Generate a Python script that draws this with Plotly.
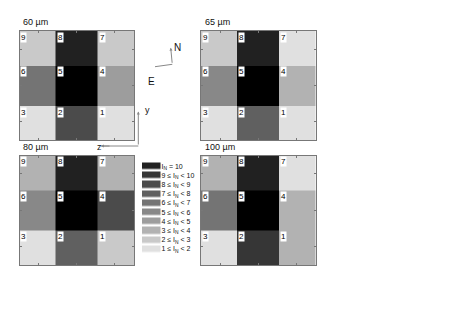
import plotly.graph_objects as go

# ---- data ----
panel_titles = ["60 µm", "65 µm", "80 µm", "100 µm"]
cell_numbers = [[3, 2, 1], [6, 5, 4], [9, 8, 7]]          # rows bottom -> top
# intensity level per cell (1..10 bins, 11 = reference cell shown black)
level_60 = [[1, 8, 1], [6, 11, 4], [2, 10, 2]]
level_65 = [[1, 7, 1], [5, 11, 3], [2, 10, 1]]
level_80 = [[1, 7, 2], [5, 11, 8], [3, 10, 3]]
level_100 = [[1, 9, 3], [6, 11, 3], [3, 10, 1]]
levels = [level_60, level_65, level_80, level_100]
x_edges = [0, 0.95, 2.05, 3]
y_edges = [0, 0.94, 2.05, 3]
legend_levels = [1, 2, 3, 4, 5, 6, 7, 8, 9, 10]
legend_labels = ["1 ≤ I<sub>N</sub> &lt; 2", "2 ≤ I<sub>N</sub> &lt; 3", "3 ≤ I<sub>N</sub> &lt; 4",
                 "4 ≤ I<sub>N</sub> &lt; 5", "5 ≤ I<sub>N</sub> &lt; 6", "6 ≤ I<sub>N</sub> &lt; 7",
                 "7 ≤ I<sub>N</sub> &lt; 8", "8 ≤ I<sub>N</sub> &lt; 9", "9 ≤ I<sub>N</sub> &lt; 10",
                 "I<sub>N</sub> = 10"]
grays = [224, 201, 178, 157, 136, 116, 96, 75, 54, 33, 0]   # level 1..11

W, H = 452, 315
FONT = "Liberation Sans, Arial, sans-serif"

# discrete colorscale for levels 1..11, zmin=0.5, zmax=11.5
n = len(grays)
cs = []
for i, g in enumerate(grays):
    c = f"rgb({g},{g},{g})"
    cs.append([i / n, c])
    cs.append([(i + 1) / n, c])

def px_x(x):
    return x / W

def px_y(y):
    return 1 - y / H

# panel pixel boxes
col_x = [(19.5, 134), (201, 315.5)]
row_y = [(31, 140), (155.5, 265)]

fig = go.Figure()
annotations = []
layout_axes = {}
for k, lv in enumerate(levels):
    r, c = divmod(k, 2)
    idx = k + 1
    xa = "x" if idx == 1 else f"x{idx}"
    ya = "y" if idx == 1 else f"y{idx}"
    fig.add_trace(go.Heatmap(
        z=lv, x=x_edges, y=y_edges, colorscale=cs, zmin=0.5, zmax=11.5,
        showscale=False, xaxis=xa, yaxis=ya, hoverinfo="skip"))
    ax_common = dict(range=[0, 3], showline=True, mirror="ticks", linecolor="#777",
                     linewidth=1, ticks="inside", ticklen=2, tickcolor="#777",
                     tickvals=[0.5, 1.5, 2.5], showticklabels=False,
                     showgrid=False, zeroline=False, fixedrange=True)
    x0, x1 = col_x[c]
    y0, y1 = row_y[r]
    layout_axes[("xaxis" if idx == 1 else f"xaxis{idx}")] = dict(
        domain=[px_x(x0), px_x(x1)], anchor=ya, **ax_common)
    layout_axes[("yaxis" if idx == 1 else f"yaxis{idx}")] = dict(
        domain=[px_y(y1), px_y(y0)], anchor=xa, **ax_common)
    # panel title
    annotations.append(dict(text=panel_titles[k], xref="paper", yref="paper",
                            x=px_x(x0 + 1.5), y=px_y(y0 - 2), xanchor="left", yanchor="bottom",
                            showarrow=False, font=dict(family=FONT, size=9, color="#111")))
    # cell numbers
    for ri in range(3):
        for ci in range(3):
            annotations.append(dict(text=str(cell_numbers[ri][ci]), xref=xa, yref=ya,
                                    x=x_edges[ci] + 0.02, y=y_edges[ri + 1] - 0.02,
                                    xanchor="left", yanchor="top", showarrow=False,
                                    bgcolor="white", borderpad=0,
                                    font=dict(family=FONT, size=8, color="black")))

# legend as a heatmap of swatches
fig.add_trace(go.Heatmap(
    z=[[v] for v in legend_levels], x=[0], y=list(range(len(legend_levels))),
    colorscale=cs, zmin=0.5, zmax=11.5, showscale=False, ygap=2.5,
    xaxis="x5", yaxis="y5", hoverinfo="skip"))
layout_axes["xaxis5"] = dict(domain=[px_x(142), px_x(160.5)], anchor="y5", visible=False,
                             fixedrange=True)
layout_axes["yaxis5"] = dict(domain=[px_y(253.5), px_y(161.5)], anchor="x5", side="right",
                             tickvals=list(range(len(legend_levels))), ticktext=legend_labels,
                             ticks="", showline=False, showgrid=False, zeroline=False,
                             tickfont=dict(family=FONT, size=7, color="#111"), fixedrange=True)

# compass (N / E)
gray = "#888"
annotations.append(dict(text="", xref="paper", yref="paper", x=px_x(170.7), y=px_y(47.7),
                        ax=1.6, ay=16.6, showarrow=True, arrowhead=2, arrowsize=0.6,
                        arrowwidth=1, arrowcolor=gray))
annotations.append(dict(text="N", xref="paper", yref="paper", x=px_x(177), y=px_y(40),
                        showarrow=False, font=dict(family=FONT, size=10, color="#111")))
annotations.append(dict(text="E", xref="paper", yref="paper", x=px_x(151), y=px_y(74),
                        showarrow=False, font=dict(family=FONT, size=10, color="#111")))
shapes = [
    dict(type="line", xref="paper", yref="paper", x0=px_x(155), y0=px_y(66.7),
         x1=px_x(172.3), y1=px_y(64.3), line=dict(color=gray, width=1)),
    dict(type="line", xref="paper", yref="paper", x0=px_x(138.3), y0=px_y(146),
         x1=px_x(101), y1=px_y(146), line=dict(color=gray, width=1)),
]
# y / z indicator
annotations.append(dict(text="", xref="paper", yref="paper", x=px_x(138.3), y=px_y(111.5),
                        ax=0, ay=34.5, showarrow=True, arrowhead=2, arrowsize=0.6,
                        arrowwidth=1, arrowcolor=gray))
annotations.append(dict(text="", xref="paper", yref="paper", x=px_x(101), y=px_y(146),
                        ax=10, ay=0, showarrow=True, arrowhead=2, arrowsize=0.6,
                        arrowwidth=1, arrowcolor=gray))
annotations.append(dict(text="y", xref="paper", yref="paper", x=px_x(143), y=px_y(110),
                        showarrow=False, font=dict(family=FONT, size=9, color="#111")))
annotations.append(dict(text="z", xref="paper", yref="paper", x=px_x(95), y=px_y(147),
                        showarrow=False, font=dict(family=FONT, size=9, color="#111")))

fig.update_layout(width=W, height=H, margin=dict(l=0, r=0, t=0, b=0),
                  paper_bgcolor="white", plot_bgcolor="white", showlegend=False,
                  annotations=annotations, shapes=shapes, **layout_axes)
fig.write_html("out.html", config={"displayModeBar": False, "staticPlot": True},
               post_script="document.body.style.margin='0px';document.body.style.overflow='hidden';")
